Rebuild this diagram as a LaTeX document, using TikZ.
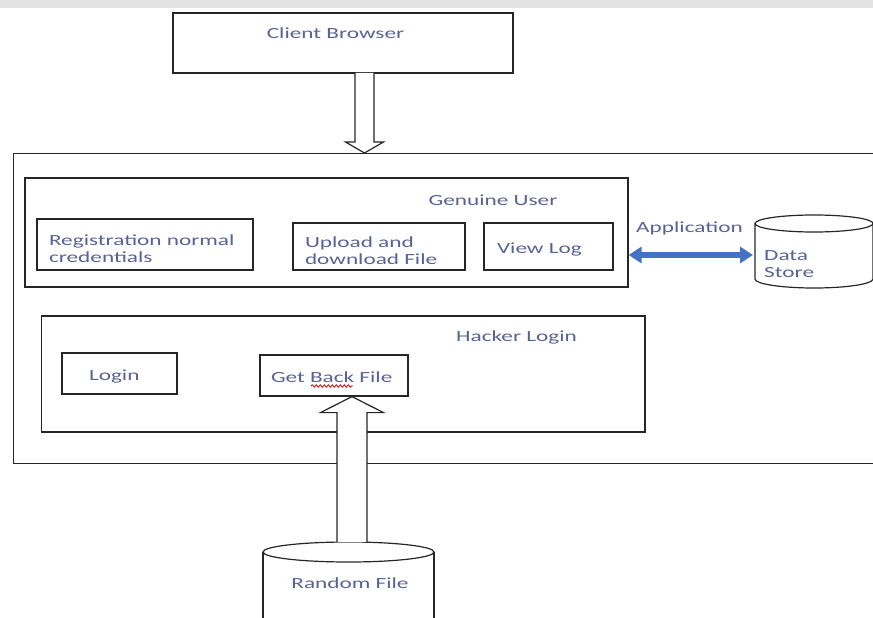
\documentclass[tikz,border=0pt]{standalone}
\usepackage{fontspec}
\setmainfont{Carlito}[FakeStretch=1.5]
\usepackage{tikz}
\usetikzlibrary{calc,arrows.meta,decorations.pathmorphing}
\definecolor{labelblue}{RGB}{88,98,148}
\definecolor{linkblue}{RGB}{68,114,196}

\begin{document}
\begin{tikzpicture}
        [%%%%%%%%%%%%%%%%%%%%%%%%%%%%%%
        x=1pt, y=-1pt,
        box/.style={draw=black!85, line width=1.2pt, rectangle, inner sep=0pt,
          font=\fontsize{15.5}{17}\selectfont, text=labelblue,
          text height=17pt, text depth=4pt},
        twoline/.style={align=left, text height=21.5pt, text depth=20.5pt},
        txt/.style={font=\fontsize{15.5}{17}\selectfont, text=labelblue, inner sep=0pt},
        store/.style={draw=black!85, line width=1.2pt},
        hollow/.style={draw=black!85, line width=1.2pt, fill=white, line join=miter},
        link/.style={linkblue, line width=6.5pt,
          {Triangle[length=13pt,width=16pt]}-{Triangle[length=13pt,width=16pt]}},
        ]%%%%%%%%%%%%%%%%%%%%%%%%%%%%%%
        \useasboundingbox (0,0) rectangle (873,618);
        \clip (0,0) rectangle (873,618);
        \fill[gray!22] (0,0) rectangle (873,8);

        % Client side
        \node[box, minimum width=340pt, minimum height=60pt] (browser) at (343,43) {};
        \node[txt] (browserlbl) at (335.5,33) {Client Browser};
        \coordinate (browserout) at (364.5,73);

        % Server frame, runs off the right edge
        \node[box, minimum width=890pt, minimum height=310pt, anchor=north west] (system) at (12.7,153) {};

        % Genuine user
        \node[box, minimum width=603pt, minimum height=109pt] (genuine) at (326.5,232.5) {};
        \node[txt] (genuinelbl) at (493,200) {Genuine User};
        \node[box, twoline, text width=192pt, inner xsep=12pt, minimum height=51pt] (register) at (145,244.5) {Registration normal\\credentials};
        \node[box, twoline, text width=148pt, inner xsep=12pt, minimum height=47pt] (upload) at (379,246.5) {Upload and\\download File};
        \node[box, text width=103pt, inner xsep=13pt, minimum height=47pt, align=left] (viewlog) at (548.5,246.5) {View Log};

        % Hacker login
        \node[box, minimum width=603.5pt, minimum height=116pt] (hacker) at (343.25,374) {};
        \node[txt] (hackerlbl) at (516.5,337) {Hacker Login};
        \node[box, text width=61pt, inner xsep=27pt, minimum height=41pt, align=left] (login) at (119.5,373.5) {Login};
        \node[box, text width=126pt, inner xsep=11pt, minimum height=41pt, align=left] (getback) at (334,375.5) {Get Back File};
        \draw[red!85!black, line width=0.8pt, decorate, decoration={snake, amplitude=1.2pt, segment length=4pt}] (311,386) -- (353,386);

        % Data store
        \draw[store] (755,223.5) -- (755,279) arc[start angle=180, end angle=0, x radius=59, y radius=9] -- (873,223.5);
        \draw[store] (814,223.5) ellipse[x radius=59, y radius=8.5];
        \node[txt, anchor=west, align=left] (storelbl) at (764,264.5) {Data\\Store};
        \coordinate (storeside) at (753,255);
        \node[txt] (applbl) at (689.5,228) {Application};
        \draw[link] (genuine.east |- storeside) -- (storeside);

        % Random file
        \draw[store] (263,552) -- (263,640);
        \draw[store] (434,552) -- (434,640);
        \draw[store] (348.5,552) ellipse[x radius=85.5, y radius=10];
        \node[txt] (randomlbl) at (350,583) {Random File};
        \coordinate (randomtop) at (352,542);

        % Hollow arrows
        \draw[hollow] let \p1=(browserout), \p2=(browserout |- system.north) in
          (\x1-9.5pt,\y1) -- (\x1-9.5pt,\y2+11pt) -- (\x1-19pt,\y2+11pt) -- (\x1,\y2)
          -- (\x1+19pt,\y2+11pt) -- (\x1+9.5pt,\y2+11pt) -- (\x1+9.5pt,\y1);
        \draw[hollow] let \p1=(randomtop), \p2=(randomtop |- getback.south) in
          (\x1-15pt,\y1) -- (\x1-15pt,\y2-16pt) -- (\x1-31.5pt,\y2-16pt) -- (\x1,\y2)
          -- (\x1+31.5pt,\y2-16pt) -- (\x1+15pt,\y2-16pt) -- (\x1+15pt,\y1);
      \end{tikzpicture}
\end{document}
